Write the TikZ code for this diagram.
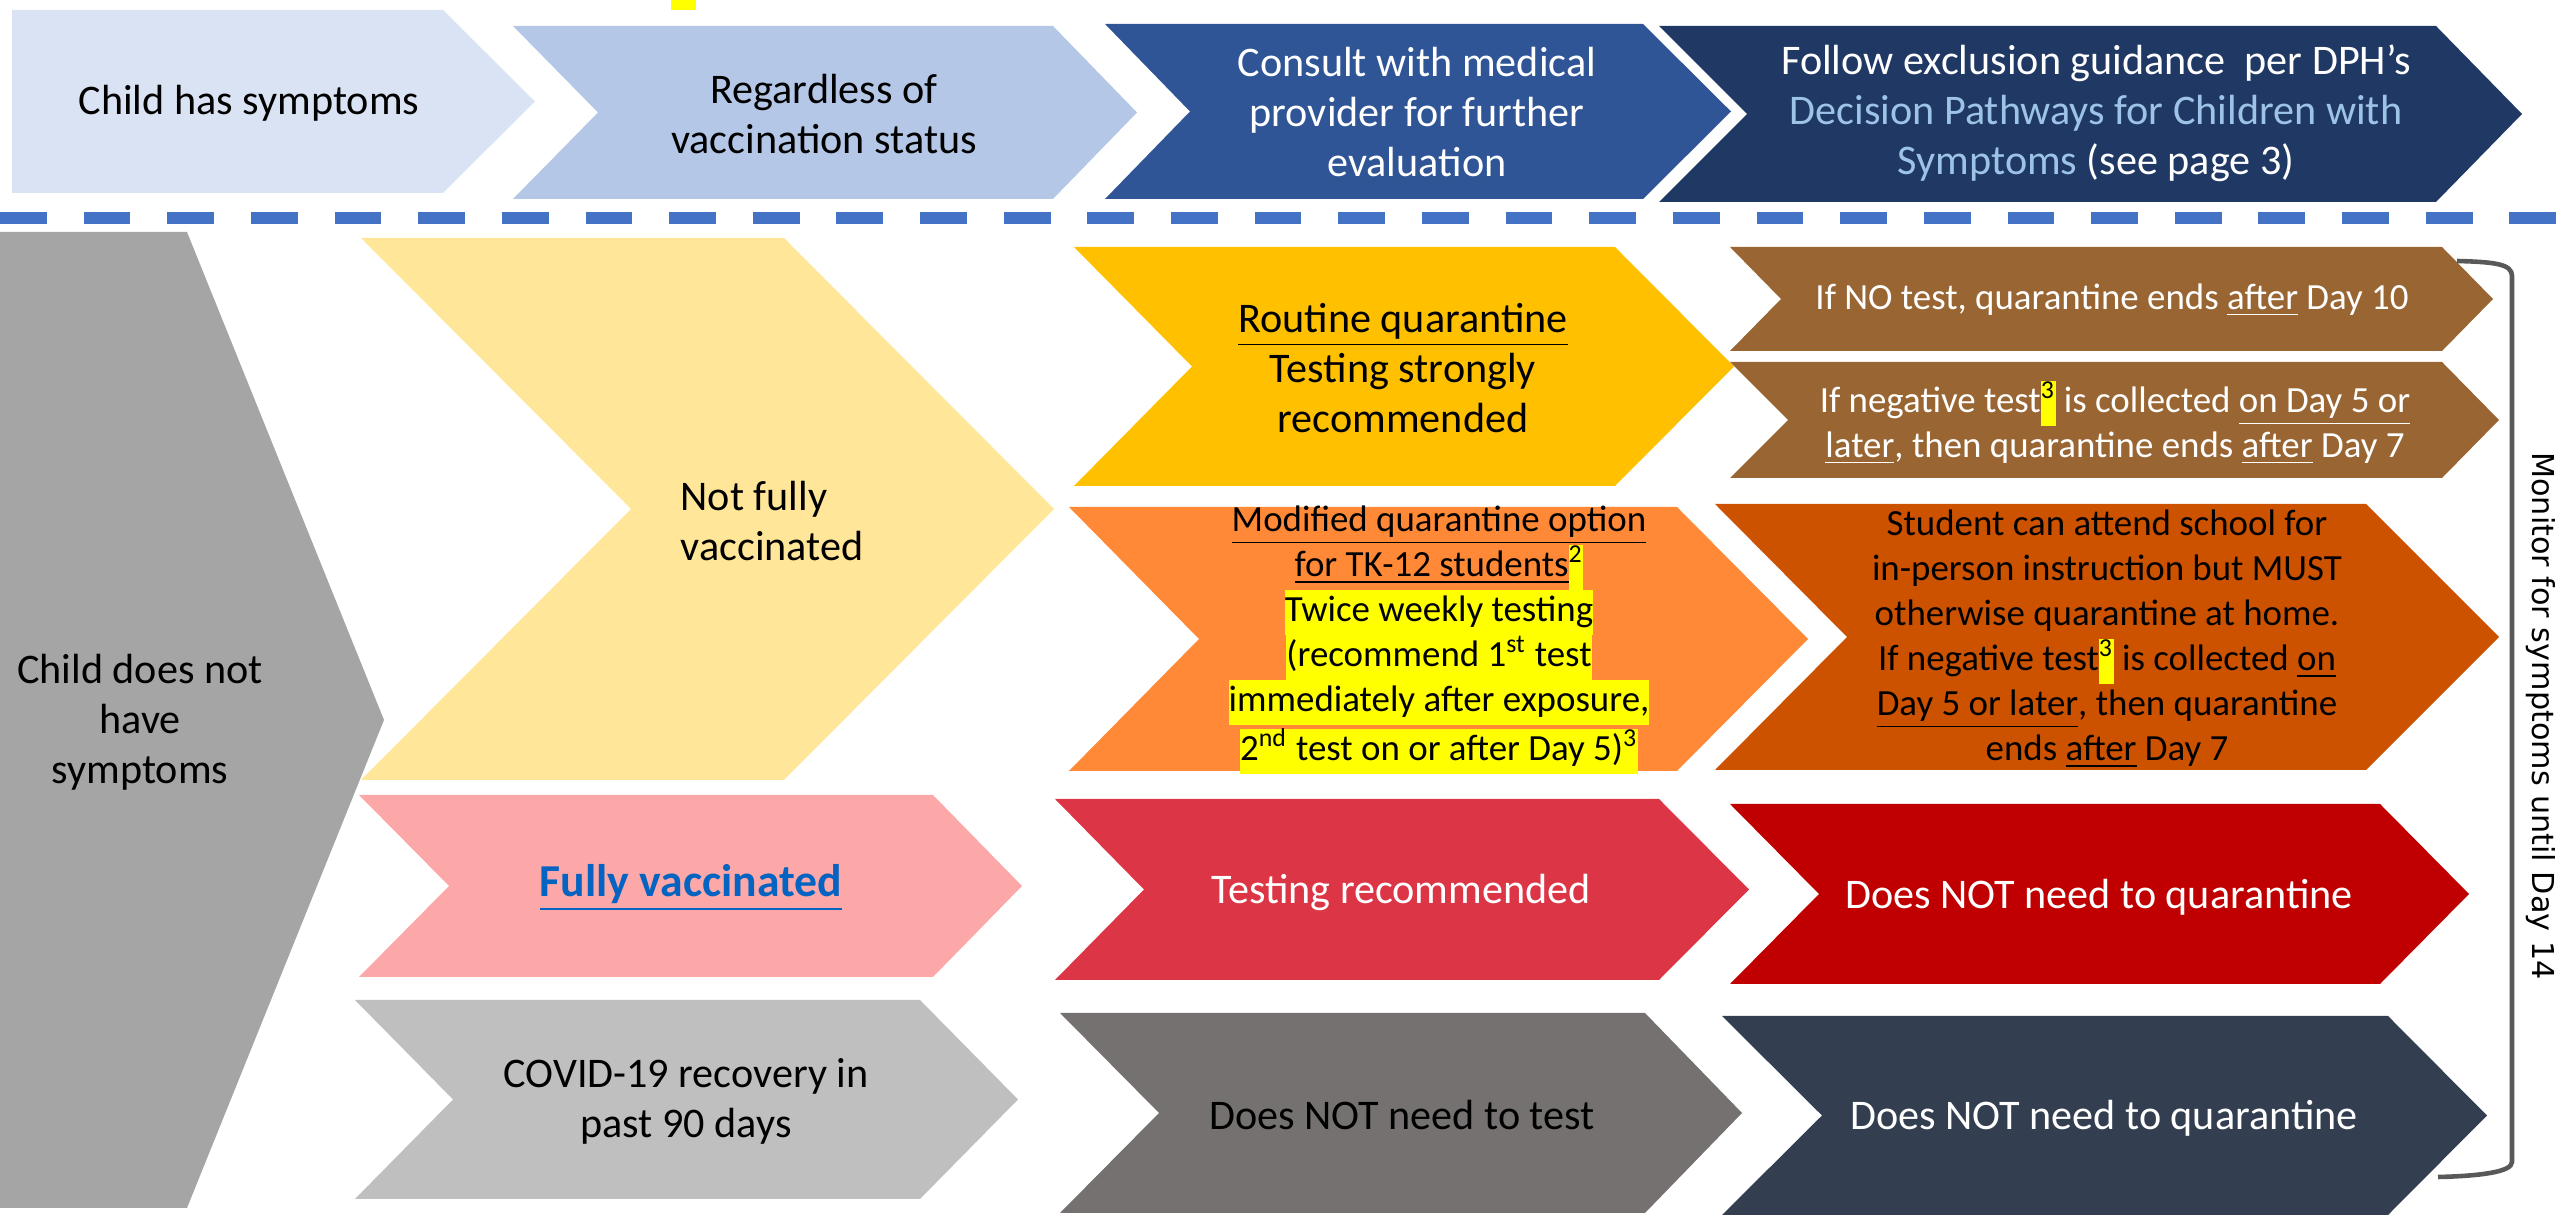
\documentclass[tikz,border=0pt]{standalone}
\usepackage{fontspec}
\setmainfont{Carlito}
\newfontfamily\monfont{DejaVu Sans}
\usepackage{tikz}

\definecolor{sympblue}{HTML}{DAE3F3}
\definecolor{regblue}{HTML}{B4C7E7}
\definecolor{consblue}{HTML}{2F5597}
\definecolor{follblue}{HTML}{203864}
\definecolor{pathblue}{HTML}{9DC3E6}
\definecolor{dashblue}{HTML}{4472C4}
\definecolor{nosympgray}{HTML}{A5A5A5}
\definecolor{notfullyellow}{HTML}{FFE699}
\definecolor{fullpink}{HTML}{FCA8A9}
\definecolor{fulltext}{HTML}{0563C1}
\definecolor{recovgray}{HTML}{BFBFBF}
\definecolor{routineamber}{HTML}{FFC000}
\definecolor{modorange}{HTML}{FF8936}
\definecolor{testred}{HTML}{DC3545}
\definecolor{notestgray}{HTML}{767171}
\definecolor{brownbox}{HTML}{996633}
\definecolor{studentorange}{HTML}{CC5200}
\definecolor{noquarred}{HTML}{C00000}
\definecolor{noquarnavy}{HTML}{333F50}
\definecolor{bracketgray}{HTML}{595959}
\definecolor{hlyellow}{HTML}{FFFF00}

% highlighted piece of text
\newcommand{\hlbox}[1]{{\setlength{\fboxsep}{0pt}\colorbox{hlyellow}{\strut #1}}}
% chevron: colour, left, notch, corner, tip, top, bottom
\newcommand{\chevron}[7]{\fill[#1] (#2,#6) -- (#4,#6) -- (#5,{(#6+#7)/2}) -- (#4,#7) -- (#2,#7) -- (#3,{(#6+#7)/2}) -- cycle;}

\begin{document}
\begin{tikzpicture}[
        x=0.1mm, y=-0.1mm,
        txt/.style={align=center, inner sep=0pt, font=\fontsize{12}{14.2}\selectfont},
        small/.style={align=center, inner sep=0pt, font=\fontsize{10.5}{12.8}\selectfont},
        wtxt/.style={text=white}
    ]
    \useasboundingbox (0,0) rectangle (2560,1218);

    % Draw the top row
    \fill[hlyellow] (671,0) rectangle (696,10);
    \chevron{sympblue}{12}{12}{443}{535}{10}{193}
    \chevron{regblue}{513}{598}{1053}{1137}{26}{199}
    \chevron{consblue}{1105}{1190}{1643}{1731}{24}{199}
    \chevron{follblue}{1659}{1747}{2436}{2522}{26}{202}

    \node[txt] (symp) at (249,103) {Child has symptoms};
    \node[txt] (regard) at (824,114) {Regardless of\\vaccination status};
    \node[txt, wtxt] (consult) at (1417,112) {Consult with medical\\provider for further\\evaluation};
    \node[txt, wtxt] (follow) at (2096,113) {Follow exclusion guidance\ \ per DPH’s\\
        \textcolor{pathblue}{Decision Pathways for Children with}\\
        \textcolor{pathblue}{Symptoms} (see page 3)};

    % Draw the separator
    \draw[dashblue, line width=3.4pt, dash pattern=on 13.3pt off 10.5pt] (0,218) -- (2560,218);

    % Draw the left column
    \chevron{nosympgray}{0}{0}{187}{384}{232}{1208}
    \chevron{notfullyellow}{361}{631}{784}{1054}{238}{780}
    \chevron{fullpink}{359}{449}{933}{1022}{795}{977}
    \chevron{recovgray}{355}{453}{920}{1018}{1000}{1199}

    \node[txt] (nosymp) at (140,722) {Child does not\\have\\symptoms};
    \node[txt, align=left, anchor=west] (notfull) at (680,521) {Not fully\\vaccinated};
    \node[txt, font=\fontsize{13}{15}\selectfont\bfseries, text=fulltext] (fullvac) at (691,888) {\underline{Fully vaccinated}};
    \node[txt] (recov) at (686,1101) {COVID-19 recovery in\\past 90 days};

    % Draw the middle column
    \chevron{routineamber}{1074}{1192}{1615}{1734}{247}{486}
    \chevron{modorange}{1069}{1199}{1677}{1808}{507}{771}
    \chevron{testred}{1055}{1144}{1659}{1749}{799}{980}
    \chevron{notestgray}{1060}{1159}{1645}{1742}{1013}{1213}

    \node[txt] (routine) at (1403,368) {\underline{Routine quarantine}\\Testing strongly\\recommended};
    \node[small] (modified) at (1439,640) {\underline{Modified quarantine option}\\
        \underline{for TK-12 students}\hlbox{\textsuperscript{2}}\\
        \hlbox{Twice weekly testing}\\
        \hlbox{(recommend 1\textsuperscript{st} test}\\
        \hlbox{immediately after exposure,}\\
        \hlbox{2\textsuperscript{nd} test on or after Day 5)\textsuperscript{3}}};
    \node[txt, wtxt] (testrec) at (1401,892) {Testing recommended};
    \node[txt] (notest) at (1402,1115) {Does NOT need to test};

    % Draw the right column
    \chevron{brownbox}{1730}{1781}{2442}{2493}{247}{351}
    \chevron{brownbox}{1730}{1788}{2442}{2499}{362}{478}
    \chevron{studentorange}{1715}{1847}{2366}{2499}{504}{770}
    \chevron{noquarred}{1730}{1819}{2380}{2469}{804}{984}
    \chevron{noquarnavy}{1722}{1822}{2388}{2487}{1016}{1215}

    \node[small, wtxt] (notestend) at (2112,300) {If NO test, quarantine ends \underline{after} Day 10};
    \node[small, wtxt] (negend) at (2115,423) {If negative test\hlbox{\color{black}\textsuperscript{3}} is collected \underline{on Day 5 or}\\
        \underline{later}, then quarantine ends \underline{after} Day 7};
    \node[small] (student) at (2107,639) {Student can attend school for\\in-person instruction but MUST\\
        otherwise quarantine at home.\\If negative test\hlbox{\textsuperscript{3}} is collected \underline{on}\\
        \underline{Day 5 or later}, then quarantine\\ends \underline{after} Day 7};
    \node[txt, wtxt] (noquarA) at (2099,897) {Does NOT need to quarantine};
    \node[txt, wtxt] (noquarB) at (2104,1118) {Does NOT need to quarantine};

    % Draw the bracket
    \draw[bracketgray, line width=1.3pt] (2457,261) .. controls (2495,262) and (2512,264) .. (2512,276)
        -- (2512,1162) .. controls (2512,1172) and (2480,1176) .. (2438,1177);
    \node[rotate=-90, inner sep=0pt, font=\monfont\fontsize{8.6}{10}\selectfont] (monitor) at (2541,716) {Monitor for symptoms until Day 14};
\end{tikzpicture}
\end{document}
